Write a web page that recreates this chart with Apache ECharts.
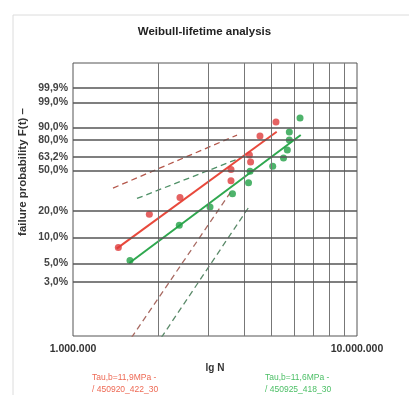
<!DOCTYPE html>
<html><head><meta charset="utf-8">
<script src="https://cdn.jsdelivr.net/npm/echarts@6/dist/echarts.min.js"></script>
<style>html,body{margin:0;padding:0;background:#fff}#c{width:409px;height:395px}</style>
</head><body><div id="c"></div>
<script>
// ---- data ----
const yTickF = [99.9, 99.0, 90.0, 80.0, 63.2, 50.0, 20.0, 10.0, 5.0, 3.0];
const yTickLabels = ['99,9%','99,0%','90,0%','80,0%','63,2%','50,0%','20,0%','10,0%','5,0%','3,0%'];
const xMinorTicks = [2e6, 3e6, 4e6, 5e6, 6e6, 7e6, 8e6, 9e6];
const xTickLabels = ['1.000.000', '10.000.000'];

const redN = [1.444e6, 1.857e6, 2.381e6, 3.60e6, 3.60e6, 4.18e6, 4.22e6, 4.554e6, 5.185e6];
const redF = [7.7, 18.3, 27.6, 50.8, 40.4, 65.3, 58.1, 83.5, 93.0];
const greenN = [1.587e6, 2.367e6, 3.037e6, 3.644e6, 4.15e6, 4.201e6, 5.049e6, 5.511e6, 5.684e6, 5.777e6, 5.777e6, 6.301e6];
const greenF = [5.4, 13.8, 22.0, 30.2, 38.7, 49.1, 54.0, 62.2, 70.4, 80.0, 86.7, 94.9];

const redFitN = [1.425e6, 5.215e6];
const redFitF = [7.46, 86.9];
const greenFitN = [1.579e6, 6.337e6];
const greenFitF = [5.05, 84.3];

const redUpperN = [1.383e6, 3.78e6];
const redUpperF = [34.3, 84.3];
const redLowerN = [1.535e6, 3.58e6];
const redLowerF = [0.51, 31.0];
const greenUpperN = [1.68e6, 3.873e6];
const greenUpperF = [27.0, 62.2];
const greenLowerN = [1.956e6, 4.201e6];
const greenLowerF = [0.51, 22.9];

// Weibull probability scale
const wb = f => Math.log(-Math.log(1 - f / 100));
const pts = (n, f) => n.map((v, i) => [v, wb(f[i])]);

const RED = '#e8493c', GREEN = '#2fa84f';
const chart = echarts.init(document.getElementById('c'), null, {renderer: 'canvas'});

const lineSeries = (n, f, color, dashed, width) => ({
  type: 'line', data: pts(n, f), symbol: 'none', silent: true, clip: true,
  lineStyle: {color, width, type: dashed ? [6, 4] : 'solid'}, z: 3
});

chart.setOption({
  animation: false,
  title: {text: 'Weibull-lifetime analysis', left: 'center', top: 21,
    textStyle: {fontFamily: 'Liberation Sans', fontSize: 11.5, fontWeight: 'bold', color: '#222'}},
  grid: {left: 73, top: 63, right: 52, bottom: 59, show: true, borderColor: '#555', borderWidth: 1, backgroundColor: '#fff'},
  xAxis: {type: 'log', logBase: 10, min: 1e6, max: 1e7,
    axisLine: {show: false}, axisTick: {show: false}, splitLine: {show: false}, minorSplitLine: {show: false},
    axisLabel: {fontFamily: 'Liberation Sans', fontSize: 10.5, fontWeight: 'bold', color: '#333', margin: 8,
      formatter: v => v <= 1.5e6 ? xTickLabels[0] : xTickLabels[1]},
    name: 'lg N', nameLocation: 'middle', nameGap: 27,
    nameTextStyle: {fontFamily: 'Liberation Sans', fontSize: 10, fontWeight: 'bold', color: '#333'}},
  yAxis: {type: 'value', min: -5.0, max: 2.63,
    axisLine: {show: false}, axisTick: {show: false}, splitLine: {show: false}, axisLabel: {show: false}},
  graphic: [
    {type: 'polyline', shape: {points: [[13, 400], [13, 15], [409, 15]]}, style: {stroke: '#dcdcdc', lineWidth: 1, fill: null}, silent: true},
    {type: 'text', x: 23, y: 172, rotation: Math.PI / 2,
      style: {text: 'failure probability F(t) –', fontFamily: 'Liberation Sans', fontSize: 11.5, fontWeight: 'bold', fill: '#333', align: 'center', verticalAlign: 'middle'}},
    {type: 'text', x: 92, y: 373, style: {text: 'Tau,b=11,9MPa -', fontFamily: 'Liberation Sans', fontSize: 8.5, fill: '#ee6a55'}},
    {type: 'text', x: 92, y: 385, style: {text: '/ 450920_422_30', fontFamily: 'Liberation Sans', fontSize: 8.5, fill: '#ee6a55'}},
    {type: 'text', x: 265, y: 373, style: {text: 'Tau,b=11,6MPa -', fontFamily: 'Liberation Sans', fontSize: 8.5, fill: '#4cbf66'}},
    {type: 'text', x: 265, y: 385, style: {text: '/ 450925_418_30', fontFamily: 'Liberation Sans', fontSize: 8.5, fill: '#4cbf66'}}
  ],
  series: [
    {type: 'line', data: [], silent: true, z: 1,
      markLine: {silent: true, symbol: 'none', animation: false,
        lineStyle: {color: '#777', width: 1, type: 'solid'},
        label: {show: false},
        data: xMinorTicks.map(v => ({xAxis: v}))}},
    {type: 'line', data: [], silent: true, z: 1,
      markLine: {silent: true, symbol: 'none', animation: false,
        lineStyle: {color: '#555', width: 1.5, type: 'solid'},
        data: yTickF.map((f, i) => ({yAxis: wb(f),
          label: {show: true, position: 'start', distance: 5, formatter: yTickLabels[i],
            fontFamily: 'Liberation Sans', fontSize: 10.5, fontWeight: 'bold', color: '#444'}}))}},
    lineSeries(redUpperN, redUpperF, '#b4574b', true, 1.3),
    lineSeries(redLowerN, redLowerF, '#a86a62', true, 1.3),
    lineSeries(greenUpperN, greenUpperF, '#4f9067', true, 1.3),
    lineSeries(greenLowerN, greenLowerF, '#5b8a6a', true, 1.3),
    lineSeries(redFitN, redFitF, RED, false, 2),
    lineSeries(greenFitN, greenFitF, GREEN, false, 2),
    {type: 'scatter', data: pts(redN, redF), symbol: 'circle', symbolSize: 7, itemStyle: {color: '#de3b3b'}, z: 4},
    {type: 'scatter', data: pts(greenN, greenF), symbol: 'circle', symbolSize: 7, itemStyle: {color: '#22a046'}, z: 4}
  ]
});
</script></body></html>
